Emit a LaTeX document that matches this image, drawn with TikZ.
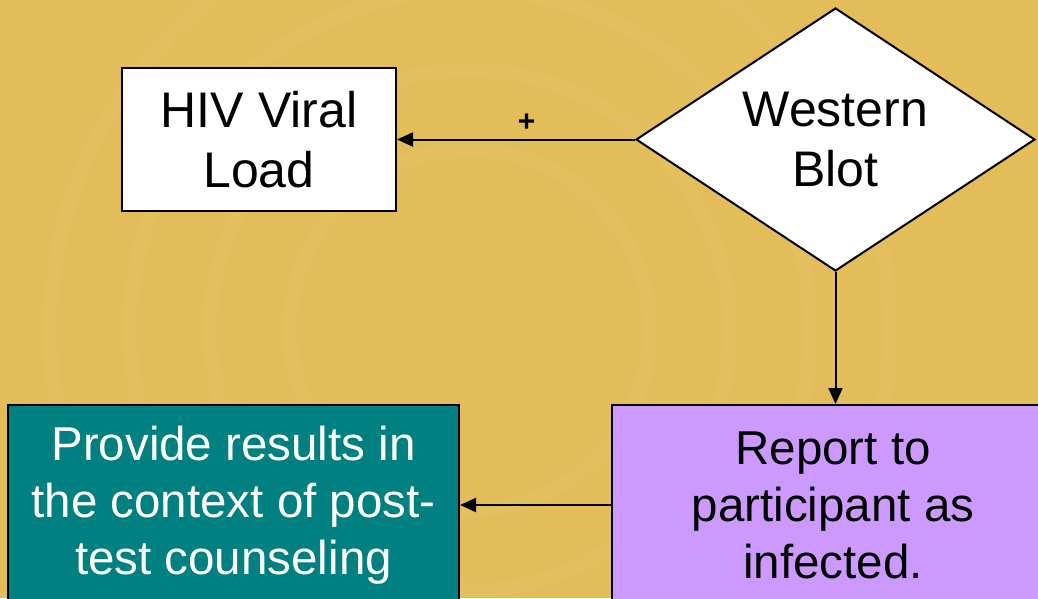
\documentclass[tikz,border=0pt]{standalone}
\usepackage{fontspec}
\setmainfont{Liberation Sans}
\usetikzlibrary{shapes.geometric,arrows.meta}
\definecolor{bggold}{HTML}{E4BD5B}
\definecolor{tealbox}{HTML}{008080}
\definecolor{purplebox}{HTML}{CC99FF}
\tikzset{
  boxframe/.style={draw=black,line width=2pt,rectangle,align=center,inner sep=0pt},
  bigtext/.style={font=\fontsize{50}{60}\selectfont},
  lowtext/.style={font=\fontsize{47.5}{57}\selectfont},
  conn/.style={line width=2pt,-{Triangle[length=16pt,width=14pt]}},
}
\begin{document}
\begin{tikzpicture}[x=1pt,y=-1pt]
\clip (0,0) rectangle (1038,598);
\fill[bggold] (0,0) rectangle (1038,598);
\foreach \r in {180,260,340,420}
  \draw[white,opacity=0.035,line width=14pt] (470,330) circle[radius=\r];
\node[boxframe,fill=white,minimum width=274pt,minimum height=143pt,bigtext] (hiv) at (259,139.5) {HIV Viral\\Load};
\node[diamond,draw=black,line width=2pt,fill=white,shape aspect=1.517,inner sep=0pt,minimum width=399pt,minimum height=263pt,align=center,bigtext] (wb) at (835.5,139.5) {Western\\Blot};
\node[boxframe,fill=purplebox,minimum width=442pt,minimum height=200pt,lowtext] (rep) at (833,505) {Report to\\participant as\\infected.};
\node[boxframe,fill=tealbox,text=white,minimum width=451pt,minimum height=200pt,lowtext] (ctx) at (233.5,505) {Provide results in\\the context of post-\\test counseling};
\draw[conn] (wb.west) -- node[pos=0.455,above=4pt,font=\bfseries\fontsize{30}{32}\selectfont] (plus) {+} (hiv.east);
\draw[conn] (wb.south) -- (wb.south |- rep.north);
\draw[conn] (rep.west) -- (ctx.east);
\end{tikzpicture}
\end{document}
